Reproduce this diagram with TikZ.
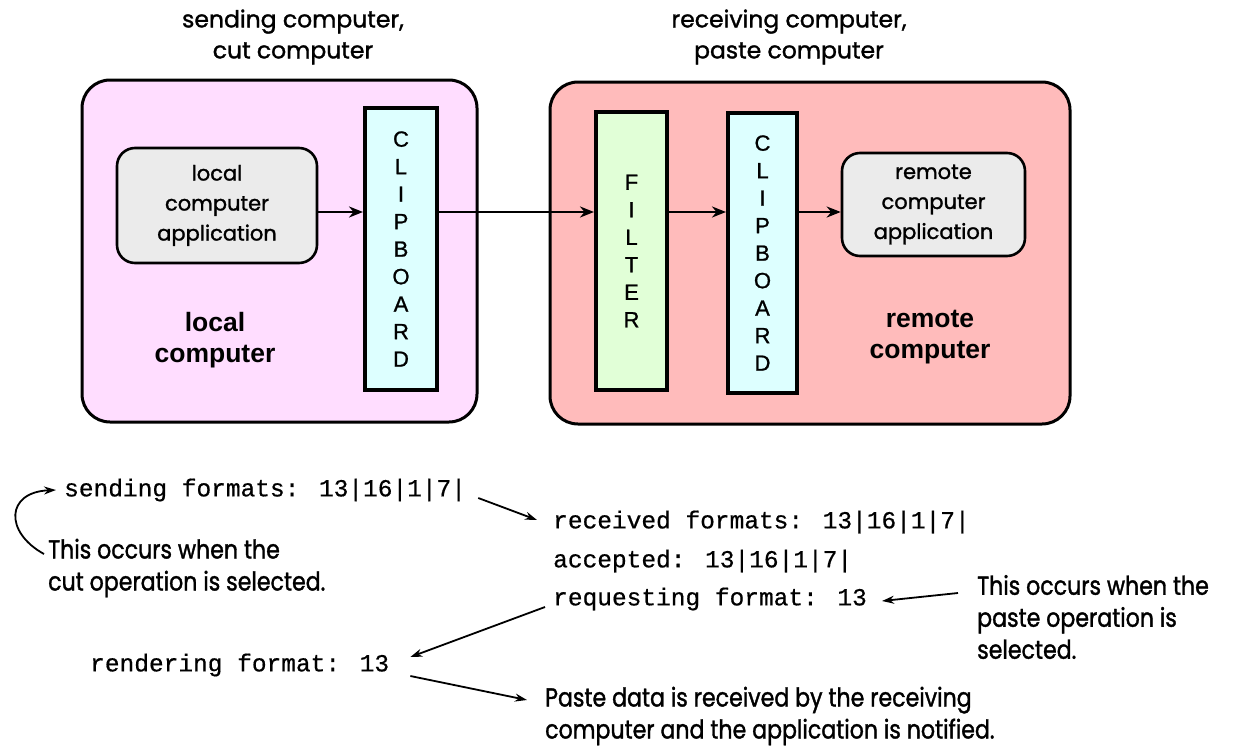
\documentclass[tikz,border=0pt]{standalone}
\usepackage{fontspec}
\setmainfont[FakeBold=1.3]{Poppins}
\newfontfamily\arialf{Liberation Sans}
\newfontfamily\ariallet[FakeBold=1]{Liberation Sans}
\newfontfamily\courf[FakeBold=0.6]{Liberation Mono}
\newfontfamily\condf[FakeStretch=0.85,FakeBold=1.3]{Poppins}
\usetikzlibrary{arrows.meta,calc}
\definecolor{pinkbg}{RGB}{255,221,255}
\definecolor{redbg}{RGB}{255,187,187}
\definecolor{appgray}{RGB}{235,235,235}
\definecolor{cyanbg}{RGB}{221,255,255}
\definecolor{greenbg}{RGB}{225,255,215}
\tikzset{
  bigbox/.style={draw=black, line width=3pt, rounded corners=28pt, inner sep=0pt},
  appbox/.style={draw=black, line width=2.6pt, rounded corners=18pt, fill=appgray, align=center, inner sep=0pt,
     font=\fontsize{21}{30}\selectfont},
  strip/.style={draw=black, line width=4pt, inner sep=0pt, align=center,
     font=\ariallet\fontsize{22}{27.5}\selectfont},
  arr/.style={line width=2.8pt, -{Stealth[length=14pt,width=11pt]}},
  note/.style={-{Stealth[length=12pt,width=8pt]}, line width=1.8pt},
  mono/.style={font=\courf\fontsize{24.5}{30}\selectfont, inner sep=0pt, anchor=west},
  annot/.style={font=\condf\fontsize{26}{32}\selectfont, inner sep=0pt, anchor=west, align=left},
  toplabel/.style={font=\fontsize{23.5}{31}\selectfont, align=center, inner sep=0pt},
  biglabel/.style={font=\arialf\bfseries\fontsize{26.5}{31}\selectfont, align=center, inner sep=0pt}
}
\begin{document}
\begin{tikzpicture}[x=1pt,y=-1pt]
\useasboundingbox[fill=white] (0,0) rectangle (1234,750);
% top labels
\node[toplabel] (sendlbl) at (293,37) {sending computer,\\cut computer};
\node[toplabel] (recvlbl) at (789,37) {receiving computer,\\paste computer};
% big boxes
\node[bigbox, fill=pinkbg, minimum width=395pt, minimum height=342pt] (local) at (279.5,251) {};
\node[bigbox, fill=redbg, minimum width=520pt, minimum height=342pt] (remote) at (810,253) {};
% inner boxes
\node[appbox, minimum width=200pt, minimum height=115pt] (lapp) at (217,205.5) {local\\computer\\application};
\node[strip, fill=cyanbg, minimum width=72pt, minimum height=282pt] (clip1) at (401,249) {C\\L\\I\\P\\B\\O\\A\\R\\D};
\node[strip, fill=greenbg, minimum width=71pt, minimum height=278pt] (filter) at (631.5,251) {F\\I\\L\\T\\E\\R};
\node[strip, fill=cyanbg, minimum width=69pt, minimum height=280pt] (clip2) at (762.5,253) {C\\L\\I\\P\\B\\O\\A\\R\\D};
\node[appbox, minimum width=183pt, minimum height=103pt] (rapp) at (933.5,204.5) {remote\\computer\\application};
\node[biglabel] (localtxt) at (215,340) {local\\computer};
\node[biglabel] (remotetxt) at (930,337) {remote\\computer};
% arrows in boxes
\coordinate (yl) at (0,212);
\draw[arr] (lapp.east |- yl) -- (clip1.west |- yl);
\draw[arr] (clip1.east |- yl) -- (filter.west |- yl);
\draw[arr] (filter.east |- yl) -- (clip2.west |- yl);
\draw[arr] (clip2.east |- yl) -- (rapp.west |- yl);
% bottom texts
\node[mono] (sendf) at (64,490) {sending formats: 13|16|1|7|};
\node[mono] (recvf) at (553,522) {received formats: 13|16|1|7|};
\node[mono] (accf) at (553,561) {accepted: 13|16|1|7|};
\node[mono] (reqf) at (553,599) {requesting format: 13};
\node[mono] (rendf) at (90,665) {rendering format: 13};
\node[annot] (cutnote) at (48,568) {This occurs when the\\cut operation is selected.};
\node[annot] (pastenote) at (977,617) {This occurs when the\\paste operation is\\selected.};
\node[annot] (datanote) at (545,716) {Paste data is received by the receiving\\computer and the application is notified.};
% bottom connectors
\draw[note] ([shift={(-4,-14)}]cutnote.west) .. controls (4,532) and (6,492) .. ([shift={(-8,0)}]sendf.west);
\draw[note] ([shift={(12,8)}]sendf.east) -- ([shift={(-16,-2)}]recvf.west);
\draw[note] ([shift={(-19,-24)}]pastenote.west) -- ([shift={(15,2)}]reqf.east);
\draw[note] ([shift={(-8,8)}]reqf.west) -- ([shift={(21,-8)}]rendf.east);
\draw[note] ([shift={(21,11)}]rendf.east) -- ([shift={(-18,-16)}]datanote.west);
\end{tikzpicture}
\end{document}
